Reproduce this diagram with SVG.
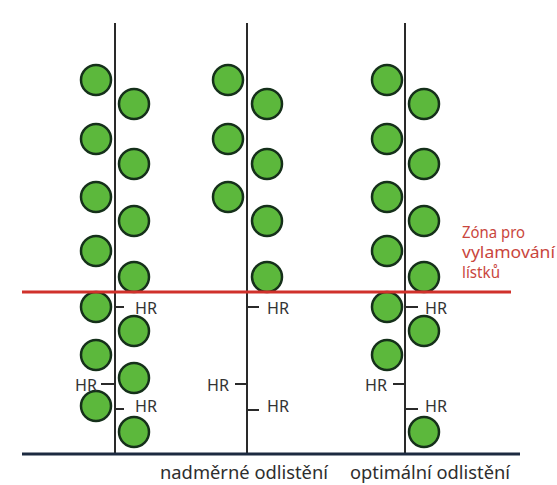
<svg xmlns="http://www.w3.org/2000/svg" width="557" height="485" viewBox="0 0 557 485">
  <style>
    .stem { stroke: #2a2a2a; stroke-width: 2; }
    .tick { stroke: #2a2a2a; stroke-width: 2; }
    .leaf { fill: #5cb83c; stroke: #15301a; stroke-width: 2.5; }
    .hr { font-family: "Noto Sans", "Open Sans", sans-serif; font-size: 16px; fill: #333333; }
    .label { font-family: "Noto Sans", "Open Sans", sans-serif; font-size: 18px; fill: #2e2e2e; }
    .zone { font-family: "Noto Sans", "Open Sans", sans-serif; font-size: 16px; fill: #c9463d; }
  </style>
  <defs>
    <circle id="leaf" r="15" class="leaf"/>
  </defs>
  <rect width="557" height="485" fill="#ffffff"/>

  <!-- stems -->
  <g id="stems">
    <line class="stem" x1="115" y1="23" x2="115" y2="453"/>
    <line class="stem" x1="247" y1="23" x2="247" y2="453"/>
    <line class="stem" x1="405" y1="23" x2="405" y2="453"/>
  </g>

  <!-- leaves, left plant -->
  <g id="plant-1">
    <use href="#leaf" x="96" y="80"/>
    <use href="#leaf" x="96" y="139"/>
    <use href="#leaf" x="96" y="197"/>
    <use href="#leaf" x="96" y="251"/>
    <use href="#leaf" x="134" y="104"/>
    <use href="#leaf" x="134" y="164"/>
    <use href="#leaf" x="134" y="221"/>
    <use href="#leaf" x="134" y="277"/>
    <use href="#leaf" x="96" y="307"/>
    <use href="#leaf" x="96" y="355"/>
    <use href="#leaf" x="96" y="406"/>
    <use href="#leaf" x="134" y="331"/>
    <use href="#leaf" x="134" y="378"/>
    <use href="#leaf" x="134" y="432"/>
  </g>

  <!-- leaves, middle plant -->
  <g id="plant-2">
    <use href="#leaf" x="228" y="80"/>
    <use href="#leaf" x="228" y="139"/>
    <use href="#leaf" x="228" y="197"/>
    <use href="#leaf" x="267" y="104"/>
    <use href="#leaf" x="267" y="164"/>
    <use href="#leaf" x="267" y="221"/>
    <use href="#leaf" x="267" y="277"/>
  </g>

  <!-- leaves, right plant -->
  <g id="plant-3">
    <use href="#leaf" x="387" y="80"/>
    <use href="#leaf" x="387" y="139"/>
    <use href="#leaf" x="387" y="197"/>
    <use href="#leaf" x="387" y="251"/>
    <use href="#leaf" x="424" y="104"/>
    <use href="#leaf" x="424" y="164"/>
    <use href="#leaf" x="424" y="221"/>
    <use href="#leaf" x="424" y="277"/>
    <use href="#leaf" x="387" y="307"/>
    <use href="#leaf" x="387" y="355"/>
    <use href="#leaf" x="424" y="331"/>
    <use href="#leaf" x="424" y="432"/>
  </g>

  <!-- zone boundary and ground -->
  <g id="lines">
    <line x1="22" y1="292" x2="511" y2="292" stroke="#d0312b" stroke-width="3"/>
    <line x1="22" y1="454" x2="520" y2="454" stroke="#1c2a40" stroke-width="3"/>
  </g>

  <!-- HR markers -->
  <g id="hr-1">
    <line class="tick" x1="115" y1="307" x2="124" y2="307"/>
    <text class="hr" x="135" y="314" textLength="22" lengthAdjust="spacingAndGlyphs">HR</text>
    <line class="tick" x1="101" y1="384" x2="115" y2="384"/>
    <text class="hr" x="75" y="391" textLength="22" lengthAdjust="spacingAndGlyphs">HR</text>
    <line class="tick" x1="115" y1="409" x2="124" y2="409"/>
    <text class="hr" x="135" y="412" textLength="22" lengthAdjust="spacingAndGlyphs">HR</text>
  </g>
  <g id="hr-2">
    <line class="tick" x1="247" y1="307" x2="259" y2="307"/>
    <text class="hr" x="267" y="314" textLength="22" lengthAdjust="spacingAndGlyphs">HR</text>
    <line class="tick" x1="235" y1="384" x2="247" y2="384"/>
    <text class="hr" x="207" y="391" textLength="22" lengthAdjust="spacingAndGlyphs">HR</text>
    <line class="tick" x1="247" y1="410" x2="259" y2="410"/>
    <text class="hr" x="267" y="412" textLength="22" lengthAdjust="spacingAndGlyphs">HR</text>
  </g>
  <g id="hr-3">
    <line class="tick" x1="405" y1="307" x2="418" y2="307"/>
    <text class="hr" x="425" y="314" textLength="22" lengthAdjust="spacingAndGlyphs">HR</text>
    <line class="tick" x1="393" y1="384" x2="405" y2="384"/>
    <text class="hr" x="365" y="391" textLength="22" lengthAdjust="spacingAndGlyphs">HR</text>
    <line class="tick" x1="405" y1="409" x2="418" y2="409"/>
    <text class="hr" x="425" y="412" textLength="22" lengthAdjust="spacingAndGlyphs">HR</text>
  </g>

  <!-- zone caption -->
  <g id="zone-label">
    <text class="zone" x="462" y="238" textLength="63" lengthAdjust="spacingAndGlyphs">Zóna pro</text>
    <text class="zone" x="462" y="258" textLength="93" lengthAdjust="spacingAndGlyphs">vylamování</text>
    <text class="zone" x="462" y="278" textLength="38" lengthAdjust="spacingAndGlyphs">lístků</text>
  </g>

  <!-- bottom captions -->
  <g id="captions">
    <text class="label" x="160" y="479" textLength="168" lengthAdjust="spacingAndGlyphs">nadměrné odlistění</text>
    <text class="label" x="350" y="479" textLength="160" lengthAdjust="spacingAndGlyphs">optimální odlistění</text>
  </g>
</svg>
